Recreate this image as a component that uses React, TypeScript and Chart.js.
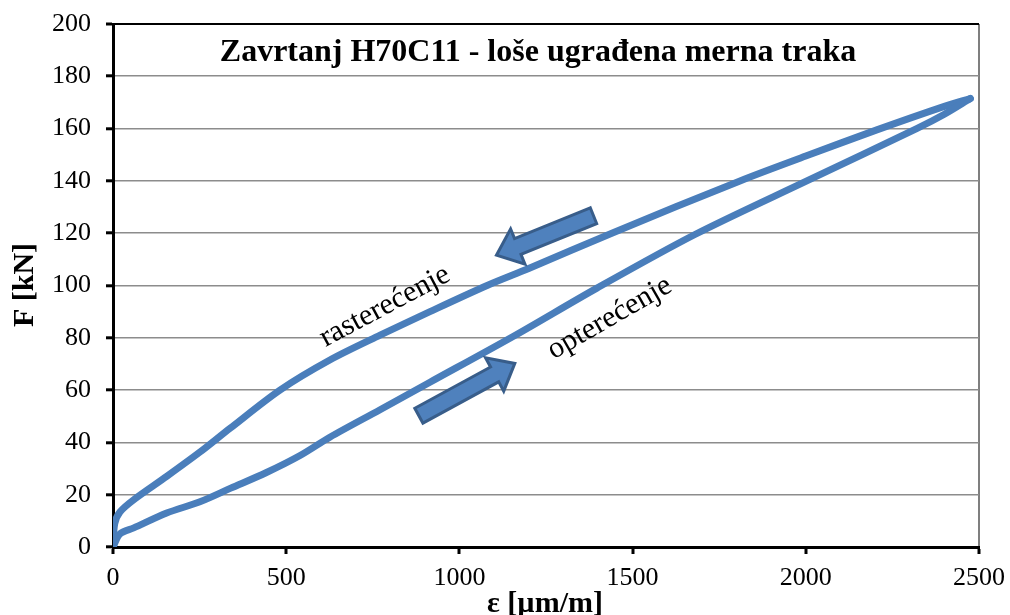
import { useEffect, useRef } from "react";
import { Chart, registerables } from "chart.js";

Chart.register(...registerables);

const loadX = [0, 20, 60, 155, 251, 340, 443, 540, 626, 771, 915, 1155, 1397, 1680, 2003, 2320, 2400, 2475];
const loadY = [0, 5, 7.3, 13, 17.3, 22.5, 28.5, 35, 42, 52.5, 63, 80.5, 99, 119.5, 140, 160, 165.5, 171.5];
const unloadX = [2475, 2400, 2205, 2000, 1810, 1440, 1200, 1080, 915, 771, 626, 482, 338, 251, 155, 59, 20, 5, 0];
const unloadY = [171.5, 168.5, 159.5, 149.5, 140, 120, 106.5, 100, 90, 81, 71.5, 60, 45.4, 36.3, 27, 18, 13.4, 9, 0];

const xTicks = [0, 500, 1000, 1500, 2000, 2500];
const yTicks = [0, 20, 40, 60, 80, 100, 120, 140, 160, 180, 200];

const titleText = "Zavrtanj H70C11 - loše ugrađena merna traka";
const xTitle = "ε [µm/m]";
const yTitle = "F [kN]";

// arrows: tail and tip in data units
const arrowTails = [
  [1387, 126.7],
  [883, 50.2],
];
const arrowTips = [
  [1107, 111.6],
  [1160, 70.2],
];

const labelTexts = ["rasterećenje", "opterećenje"];
const labelPos = [
  [785, 92],
  [1434, 87.5],
];
const labelAngles = [-28, -30];

const SERIF = "'Liberation Serif', 'Times New Roman', serif";
const LINE = "#4A7EBB";

export default function App() {
  const ref = useRef<HTMLCanvasElement | null>(null);

  useEffect(() => {
    const canvas = ref.current;
    if (!canvas) return;

    const overlay = {
      id: "overlay",
      afterDatasetsDraw(chart: any) {
        const ctx = chart.ctx as CanvasRenderingContext2D;
        const xs = chart.scales.x;
        const ys = chart.scales.y;
        for (let i = 0; i < arrowTails.length; i++) {
          const tx = xs.getPixelForValue(arrowTails[i][0]);
          const ty = ys.getPixelForValue(arrowTails[i][1]);
          const px = xs.getPixelForValue(arrowTips[i][0]);
          const py = ys.getPixelForValue(arrowTips[i][1]);
          const dx = px - tx;
          const dy = py - ty;
          const len = Math.hypot(dx, dy);
          const ux = dx / len;
          const uy = dy / len;
          const nx = -uy;
          const ny = ux;
          const sw = 8.5;
          const hw = 19;
          const hl = 23;
          const bx = px - ux * hl;
          const by = py - uy * hl;
          ctx.save();
          ctx.beginPath();
          ctx.moveTo(tx + nx * sw, ty + ny * sw);
          ctx.lineTo(bx + nx * sw, by + ny * sw);
          ctx.lineTo(bx + nx * hw, by + ny * hw);
          ctx.lineTo(px, py);
          ctx.lineTo(bx - nx * hw, by - ny * hw);
          ctx.lineTo(bx - nx * sw, by - ny * sw);
          ctx.lineTo(tx - nx * sw, ty - ny * sw);
          ctx.closePath();
          ctx.fillStyle = "#4F81BD";
          ctx.fill();
          ctx.lineWidth = 3;
          ctx.strokeStyle = "#385D8A";
          ctx.lineJoin = "miter";
          ctx.stroke();
          ctx.restore();
        }
        for (let i = 0; i < labelTexts.length; i++) {
          const lx = xs.getPixelForValue(labelPos[i][0]);
          const ly = ys.getPixelForValue(labelPos[i][1]);
          ctx.save();
          ctx.translate(lx, ly);
          ctx.rotate((labelAngles[i] * Math.PI) / 180);
          ctx.font = `30px ${SERIF}`;
          ctx.fillStyle = "#000";
          ctx.textAlign = "center";
          ctx.textBaseline = "middle";
          ctx.fillText(labelTexts[i], 0, 0);
          ctx.restore();
        }
      },
      afterDraw(chart: any) {
        const ctx = chart.ctx as CanvasRenderingContext2D;
        ctx.save();
        ctx.fillStyle = "#000";
        ctx.textAlign = "center";
        ctx.textBaseline = "middle";
        ctx.font = `bold 32px ${SERIF}`;
        ctx.fillText(titleText, 538, 53);
        ctx.font = `bold 30px ${SERIF}`;
        ctx.fillText(xTitle, 545, 604);
        ctx.translate(25, 285);
        ctx.rotate(-Math.PI / 2);
        ctx.fillText(yTitle, 0, 0);
        ctx.restore();
      },
    };

    const chart = new Chart(canvas, {
      type: "scatter",
      data: {
        datasets: [
          {
            label: "opterećenje",
            data: loadX.map((x, i) => ({ x, y: loadY[i] })),
            showLine: true,
            borderColor: LINE,
            borderWidth: 7,
            pointRadius: 0,
            tension: 0.3,
            borderCapStyle: "round",
            borderJoinStyle: "round",
          },
          {
            label: "rasterećenje",
            data: unloadX.map((x, i) => ({ x, y: unloadY[i] })),
            showLine: true,
            borderColor: LINE,
            borderWidth: 7,
            pointRadius: 0,
            tension: 0.3,
            borderCapStyle: "round",
            borderJoinStyle: "round",
          },
        ],
      },
      options: {
        responsive: false,
        animation: false,
        layout: { padding: { left: 0, right: 31, top: 24, bottom: 0 } },
        plugins: {
          legend: { display: false },
          tooltip: { enabled: false },
          title: { display: false },
        },
        scales: {
          x: {
            type: "linear",
            min: 0,
            max: 2500,
            afterBuildTicks: (s: any) => {
              s.ticks = xTicks.map((v) => ({ value: v }));
            },
            afterFit: (s: any) => {
              s.height = 68;
              s.paddingLeft = 0;
              s.paddingRight = 0;
            },
            border: { display: true, color: "#000", width: 3 },
            grid: {
              drawOnChartArea: true,
              color: (c: any) => (c.tick && c.tick.value === 2500 ? "#7F7F7F" : "rgba(0,0,0,0)"),
              lineWidth: 2,
              tickColor: "#000",
              tickWidth: 3,
              tickLength: 7,
            },
            ticks: {
              color: "#000",
              font: { family: SERIF, size: 26 },
              padding: 9,
              maxRotation: 0,
              callback: (v: any) => String(v),
            },
          },
          y: {
            type: "linear",
            min: 0,
            max: 200,
            afterBuildTicks: (s: any) => {
              s.ticks = yTicks.map((v) => ({ value: v }));
            },
            afterFit: (s: any) => {
              s.width = 113;
              s.paddingTop = 0;
              s.paddingBottom = 0;
            },
            border: { display: true, color: "#000", width: 3 },
            grid: {
              color: (c: any) => (c.tick && c.tick.value === 200 ? "#000" : "#8C8C8C"),
              lineWidth: (c: any) => (c.tick && c.tick.value === 200 ? 2 : 1.6),
              tickColor: "#000",
              tickWidth: 3,
              tickLength: 7,
            },
            ticks: {
              color: "#000",
              font: { family: SERIF, size: 26 },
              padding: 15,
              callback: (v: any) => String(v),
            },
          },
        },
      },
      plugins: [overlay],
    });

    return () => chart.destroy();
  }, []);

  return (
    <div style={{ position: "fixed", left: 0, top: 0, width: 1010, height: 615, background: "#fff" }}>
      <canvas ref={ref} width={1010} height={615} style={{ display: "block" }} />
    </div>
  );
}
